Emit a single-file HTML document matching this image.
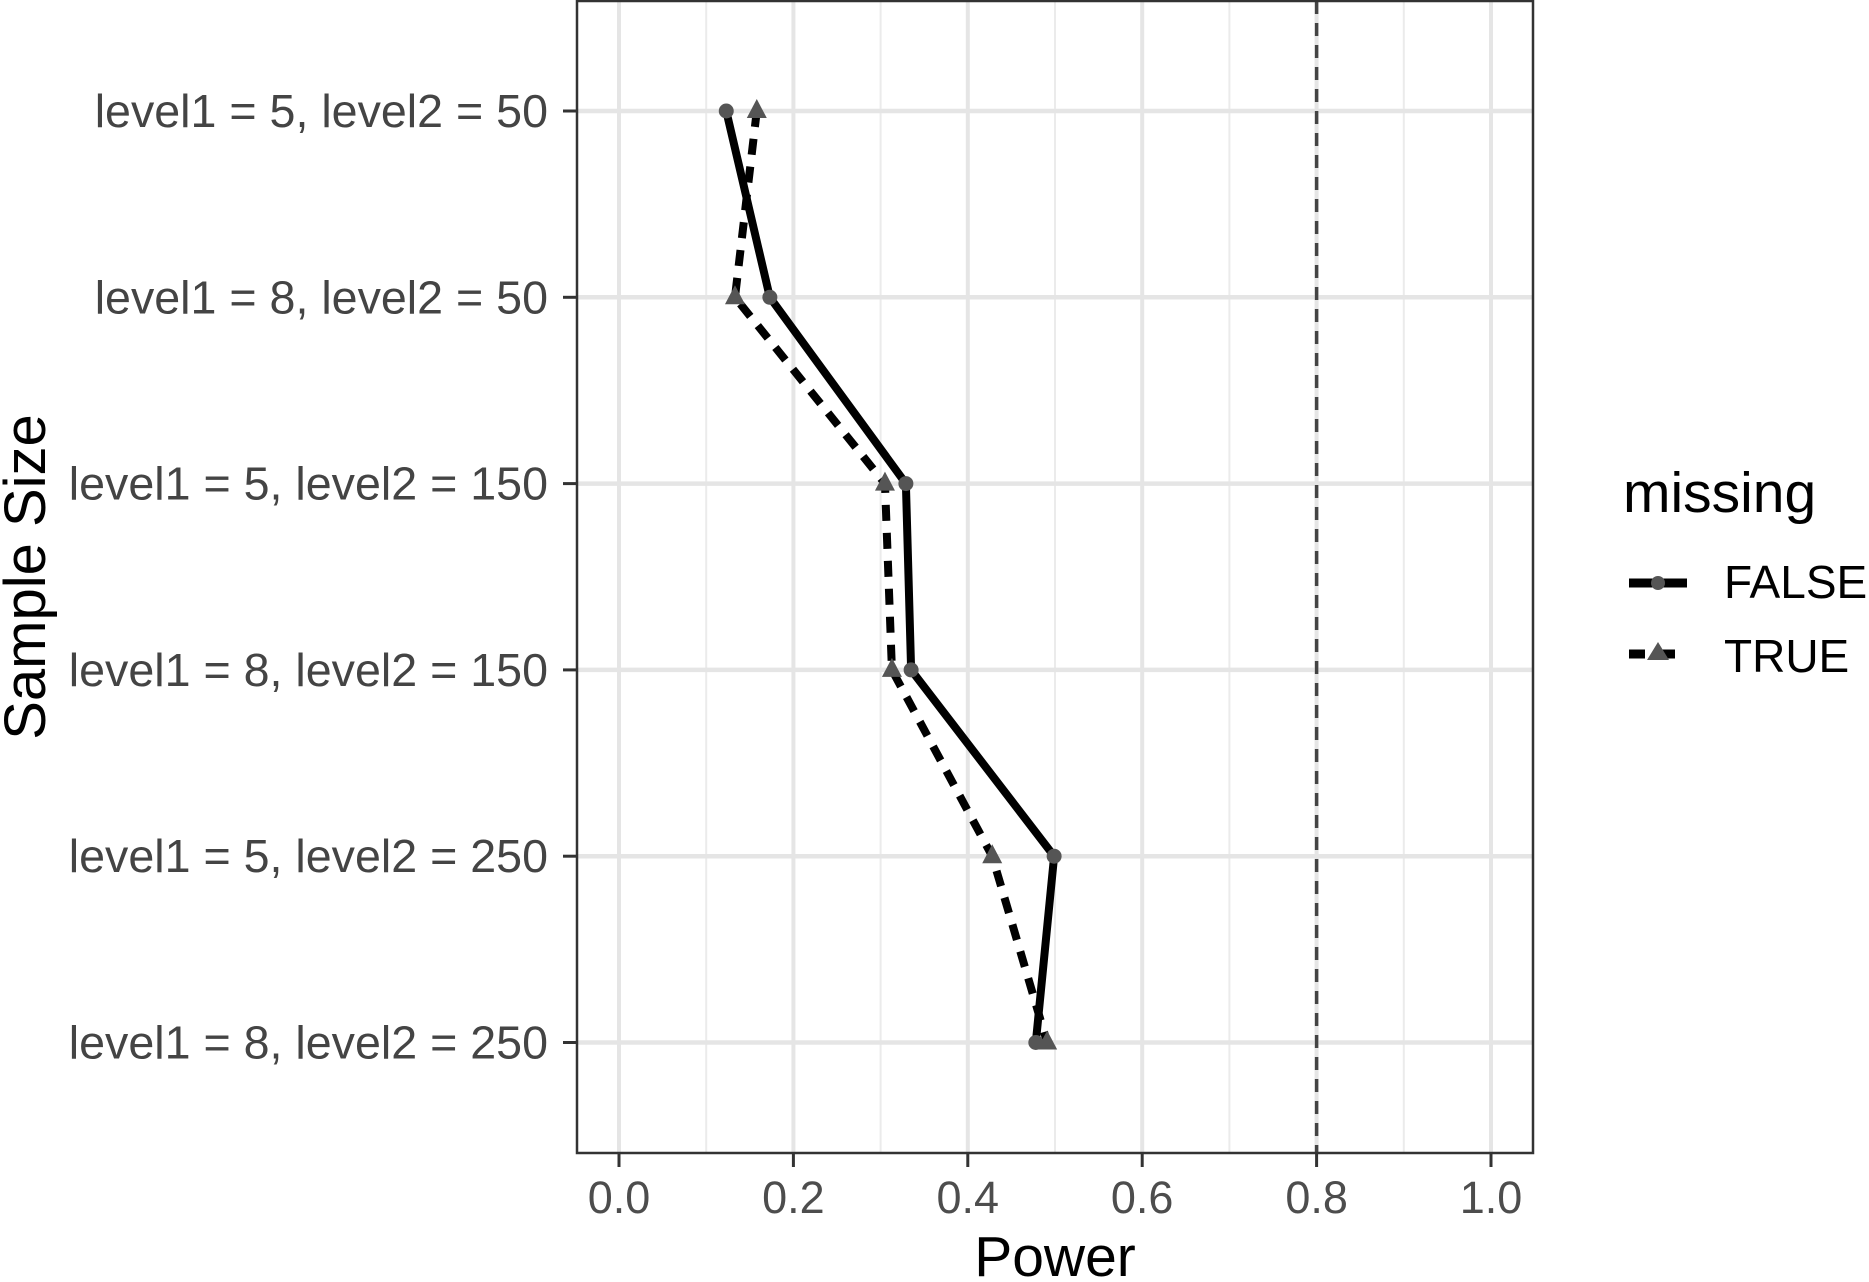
<!DOCTYPE html>
<html><head><meta charset="utf-8"><style>
html,body{margin:0;padding:0;background:#fff;}
svg{display:block;font-family:"Liberation Sans",Arial,sans-serif;}
</style></head><body>
<svg id="chart" width="1869" height="1282" viewBox="0 0 1869 1282" xmlns="http://www.w3.org/2000/svg">
<rect width="1869" height="1282" fill="#fff"/>
<g id="grid"></g>
<g id="series"></g>
<g id="axes"></g>
<text x="1055" y="1276" font-size="57" text-anchor="middle" fill="#000">Power</text>
<text transform="translate(45,577) rotate(-90)" font-size="58" text-anchor="middle" fill="#000">Sample Size</text>
<g>
<text x="1623" y="512" font-size="57" fill="#000">missing</text>
<g>
<line x1="1629" y1="583" x2="1687" y2="583" stroke="#000" stroke-width="9"/>
<circle cx="1658" cy="583" r="7" fill="#555"/>
<text x="1724" y="598" font-size="46" fill="#000">FALSE</text>
</g>
<g>
<line x1="1629" y1="654" x2="1687" y2="654" stroke="#000" stroke-width="9" stroke-dasharray="16,14"/>
<polygon points="1658,642 1669,660 1647,660" fill="#555"/>
<text x="1724" y="672" font-size="46" fill="#000">TRUE</text>
</g>
</g>
</svg>
<script>
const categories = ["level1 = 5, level2 = 50","level1 = 8, level2 = 50","level1 = 5, level2 = 150","level1 = 8, level2 = 150","level1 = 5, level2 = 250","level1 = 8, level2 = 250"];
const falseValues = [0.123, 0.173, 0.329, 0.335, 0.499, 0.478];
const trueValues = [0.158, 0.133, 0.305, 0.313, 0.428, 0.491];
const xTicks = [0, 0.2, 0.4, 0.6, 0.8, 1.0];
const xTickLabels = ["0.0","0.2","0.4","0.6","0.8","1.0"];
const xMinor = [0.1, 0.3, 0.5, 0.7, 0.9];
const refLine = 0.8;

const NS="http://www.w3.org/2000/svg";
const L=577,R=1533,T=1,B=1153;
function xs(v){return 619+v*(1491-619);}
function ys(i){return 111+i*186.3;}
function mk(tag,attrs,parent){const e=document.createElementNS(NS,tag);for(const k in attrs)e.setAttribute(k,attrs[k]);parent.appendChild(e);return e;}
const grid=document.getElementById('grid'),series=document.getElementById('series'),axes=document.getElementById('axes');
xMinor.forEach(v=>{const e=mk('line',{x1:xs(v),x2:xs(v),y1:T,y2:B,stroke:'#ebebeb','stroke-width':2},grid);

});
xTicks.forEach(v=>{const e=mk('line',{x1:xs(v),x2:xs(v),y1:T,y2:B,stroke:'#e5e5e5','stroke-width':4},grid);

});
categories.forEach((c,i)=>{const e=mk('line',{x1:L,x2:R,y1:ys(i),y2:ys(i),stroke:'#e5e5e5','stroke-width':4.5},grid);

});
const ref=mk('line',{x1:xs(refLine),x2:xs(refLine),y1:T,y2:B,stroke:'#444','stroke-width':3.5,'stroke-dasharray':'13,9'},grid);



function pts(vals){return vals.map((v,i)=>xs(v)+','+ys(i)).join(' ');}
const lt=mk('polyline',{points:pts(trueValues),fill:'none',stroke:'#000','stroke-width':8,'stroke-dasharray':'16,12','stroke-linejoin':'round'},series);


const lf=mk('polyline',{points:pts(falseValues),fill:'none',stroke:'#000','stroke-width':8,'stroke-linejoin':'round'},series);


falseValues.forEach((v,i)=>{const e=mk('circle',{cx:xs(v),cy:ys(i),r:7.5,fill:'#555'},series);

});
trueValues.forEach((v,i)=>{const x=xs(v),y=ys(i);const e=mk('polygon',{points:`${x},${y-12} ${x+10},${y+7} ${x-10},${y+7}`,fill:'#555'},series);

});

const frame=mk('rect',{x:L,y:T,width:R-L,height:B-T,fill:'none',stroke:'#333','stroke-width':2.5},axes);


xTicks.forEach((v,i)=>{mk('line',{x1:xs(v),x2:xs(v),y1:B,y2:B+14,stroke:'#333','stroke-width':3},axes);
const t=mk('text',{x:xs(v),y:1213,'font-size':45,'text-anchor':'middle',fill:'#4d4d4d'},axes);t.textContent=xTickLabels[i];

});
categories.forEach((c,i)=>{mk('line',{x1:L-14,x2:L,y1:ys(i),y2:ys(i),stroke:'#333','stroke-width':3},axes);
const t=mk('text',{x:548,y:ys(i)+16,'font-size':46.6,'text-anchor':'end',fill:'#444'},axes);t.textContent=c;

});
</script>
</body></html>
